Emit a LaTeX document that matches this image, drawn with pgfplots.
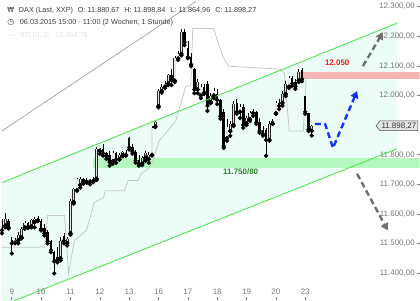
\documentclass[border=0pt]{standalone}
\usepackage{pgfplots}
\pgfplotsset{compat=1.18}
\usepackage{pgfplotstable}
\usepackage{fontspec}
\setmainfont{Liberation Sans}
\newfontfamily\symfont{DejaVu Sans}
\usetikzlibrary{arrows.meta,shapes.symbols}
\definecolor{chanfill}{RGB}{236,252,246}
\definecolor{chanline}{RGB}{80,230,80}
\definecolor{gband}{RGB}{180,248,190}
\definecolor{rband}{RGB}{245,180,180}
\definecolor{lred}{RGB}{230,30,30}
\definecolor{lgreen}{RGB}{40,140,40}
\definecolor{arrblue}{RGB}{20,50,250}
\definecolor{arrgrey}{RGB}{110,110,110}
\definecolor{stline}{RGB}{200,200,200}
\definecolor{diag}{RGB}{170,170,170}
\definecolor{ticktext}{RGB}{120,120,120}
\definecolor{headtext}{RGB}{60,60,60}
\newcommand\tf{\fontsize{8bp}{9.5bp}\selectfont}
\newcommand\hf{\fontsize{7.3bp}{9bp}\selectfont}

\pgfplotstableread{
k o h l c
0 11578 11585 11535 11545
2 11578 11582 11551 11555
3 11511 11521 11467 11501
8 11570 11573 11553 11558
11 11585 11592 11576 11580
12 11578 11582 11545 11550
13 11552 11565 11528 11535
14 11538 11545 11501 11508
15 11508 11511 11471 11478
16 11471 11477 11400 11440
17 11455 11488 11437 11445
19 11525 11535 11501 11510
25 11720 11723 11703 11708
27 11716 11720 11700 11710
31 11820 11837 11797 11805
32 11805 11810 11786 11795
33 11800 11813 11763 11775
35 11805 11810 11773 11785
38 11806 11815 11797 11800
39 11857 11860 11818 11825
40 11825 11837 11803 11810
41 11810 11815 11773 11780
42 11782 11800 11763 11770
52 12068 12089 12035 12050
56 12215 12226 12170 12180
57 12160 12183 12126 12130
58 12130 12142 12099 12105
59 12089 12092 12008 12020
62 12030 12038 12005 12010
63 12040 12048 11948 11965
66 12005 12022 11971 11985
67 11985 11988 11921 11930
68 11945 11954 11823 11830
72 11975 11988 11938 11945
74 11960 11971 11891 11900
78 11945 11948 11904 11910
79 11912 11924 11874 11880
80 11885 11897 11864 11870
81 11885 11891 11797 11850
85 11975 11988 11954 11965
89 12060 12065 12032 12040
90 12045 12055 12022 12030
92 12085 12092 12048 12055
93 11998 12000 11938 11945
94 11940 11942 11880 11885
}\downc

\pgfplotstableread{
k o h l c
1 11561 11605 11555 11585
4 11504 11518 11501 11514
5 11511 11538 11501 11528
6 11521 11555 11518 11550
7 11555 11575 11550 11570
9 11558 11585 11555 11580
10 11572 11590 11555 11585
18 11450 11521 11444 11510
20 11502 11521 11494 11515
21 11535 11650 11530 11645
22 11640 11689 11635 11685
23 11680 11723 11679 11718
24 11698 11726 11689 11720
26 11708 11722 11705 11716
28 11710 11725 11708 11720
29 11719 11825 11715 11818
30 11813 11823 11803 11820
34 11778 11813 11770 11805
36 11785 11807 11783 11800
37 11798 11813 11795 11808
43 11770 11797 11765 11790
44 11790 11813 11780 11805
45 11785 11808 11773 11800
46 11800 11897 11797 11890
47 11895 11914 11893 11910
48 11964 12022 11960 12015
49 12015 12038 12010 12030
50 12030 12048 12025 12040
51 12040 12072 12035 12068
53 12050 12132 12045 12125
54 12125 12149 12120 12140
55 12140 12225 12135 12215
60 12020 12055 12008 12045
61 12000 12038 11991 12030
64 11978 12008 11974 12000
65 12000 12025 11991 12015
69 11855 11921 11847 11895
70 11880 11914 11864 11905
71 11900 11981 11897 11970
73 11945 11971 11924 11960
75 11905 11931 11900 11925
76 11920 11948 11914 11940
77 11940 11954 11931 11945
82 11850 11914 11847 11905
83 11905 11921 11904 11915
84 11940 11981 11938 11975
86 11975 12015 11965 12005
87 12005 12048 11998 12040
88 12030 12065 12025 12060
91 12050 12089 12045 12080
95 11880.67 11898.84 11864.96 11898.27
}\upc

\begin{document}
\begin{tikzpicture}
\begin{axis}[
  scale only axis, width=420bp, height=300bp,
  xmin=-0.05, xmax=128.1, ymin=11310, ymax=12317,
  axis on top,
  axis line style={draw=none},
  scaled y ticks=false, scaled x ticks=false,
  tick style={draw=gray, line width=0.6bp},
  major tick length=3bp, tick align=inside,
  xtick pos=lower, ytick pos=right, yticklabel pos=right,
  xtick={3,12,21,30,39,48,57,66,75,84,93},
  xticklabels={9,10,11,12,13,16,17,18,19,20,23},
  xticklabel style={anchor=base, yshift=6bp, font=\tf, text=ticktext},
  ytick={11400,11500,11600,11700,11800,12000,12100,12200,12300},
  yticklabels={{11.400,00},{11.500,00},{11.600,00},{11.700,00},{11.800,00},{12.000,00},{12.100,00},{12.200,00},{12.300,00}},
  yticklabel style={anchor=east, xshift=-1.5bp, font=\tf, text=ticktext},
  clip=true,
]
% channel fill
\addplot[fill=chanfill, draw=none] coordinates {(-0.05,11706) (121.1,12244) (121.1,11820) (-0.05,11291)} -- cycle;
% support / resistance bands
\addplot[fill=gband, draw=none] coordinates {(28.0,11756) (128.2,11756) (128.2,11790) (28.0,11790)} -- cycle;
\addplot[fill=rband, draw=none] coordinates {(91.5,12055) (128.2,12055) (128.2,12079) (91.5,12079)} -- cycle;
% diagonal grey line
\addplot[diag, line width=0.8bp] coordinates {(-0.05,11880) (59.4,12317)};
% SuperTrend line
\addplot[stline, line width=0.8bp] coordinates {
(-0.05,11488) (13.07,11488) (14.0,11595) (19.2,11595) (20.4,11400) (22.2,11511)
(25.9,11545) (28.3,11639) (31.1,11655) (31.7,11679) (37.5,11679) (38.7,11713)
(41.7,11713) (42.7,11736) (45.1,11756) (46.3,11780) (48.2,11847) (53.3,11914)
(56.4,12032) (57.9,12032) (58.5,12226) (64.9,12226) (67.7,12132) (69.5,12099)
(85.4,12089) (86.6,12075) (88.1,11880) (92.4,11880) (93.3,12065) (95.1,12065)};
% wicks
\addplot[only marks, mark=none, error bars/.cd, y dir=plus, y explicit, error mark=none,
  error bar style={draw=black, line width=0.6bp}]
  table[x=k, y=l, y error plus expr=\thisrow{h}-\thisrow{l}] {\downc};
\addplot[only marks, mark=none, error bars/.cd, y dir=plus, y explicit, error mark=none,
  error bar style={draw=black, line width=0.6bp}]
  table[x=k, y=l, y error plus expr=\thisrow{h}-\thisrow{l}] {\upc};
% bodies
\addplot[only marks, mark=none, error bars/.cd, y dir=plus, y explicit, error mark=none,
  error bar style={draw=black, line width=2.5bp}]
  table[x=k, y=c, y error plus expr=\thisrow{o}-\thisrow{c}] {\downc};
\addplot[only marks, mark=none, error bars/.cd, y dir=plus, y explicit, error mark=none,
  error bar style={draw=black!85, line width=2.7bp}]
  table[x=k, y=o, y error plus expr=\thisrow{c}-\thisrow{o}] {\upc};
\addplot[only marks, mark=none, error bars/.cd, y dir=plus, y explicit, error mark=none,
  error bar style={draw=white!80!gray, line width=1.4bp}]
  table[x=k, y=o, y error plus expr=\thisrow{c}-\thisrow{o}] {\upc};
% channel lines
\addplot[chanline, line width=0.9bp] coordinates {(-0.05,11706) (121.1,12244)};
\addplot[chanline, line width=0.9bp] coordinates {(-0.05,11291) (121.1,11820)};
% forecast arrows
\addplot[arrblue, line width=2.4bp, dash pattern=on 6bp off 3.5bp, -{Triangle[length=7bp,width=8bp]}]
  coordinates {(96.0,11904) (99.1,11904) (101.5,11823) (108.9,12015)};
\addplot[arrgrey, line width=2.4bp, dash pattern=on 6bp off 3.5bp, -{Triangle[length=7bp,width=8bp]}]
  coordinates {(110.7,12099) (116.8,12213)};
\addplot[arrgrey, line width=2.4bp, dash pattern=on 6bp off 3.5bp, -{Triangle[length=7bp,width=8bp]}]
  coordinates {(108.9,11736) (118.3,11545)};
% labels
\node[font=\tf\bfseries, text=lred] at (axis cs:102.8,12112) {12.050};
\node[font=\tf\bfseries, text=lgreen] at (axis cs:73.2,11743) {11.750/80};
\node[signal, signal to=west, signal pointer angle=100, draw=black!70, fill=black!10,
  line width=0.5bp, inner sep=1.5bp, font=\tf, text=black!80, anchor=east] at (axis cs:127.6,11898) {11.898,27};
% header
\node[anchor=base west, font=\symfont\fontsize{7bp}{8bp}\selectfont, text=headtext] at (rel axis cs:0.005,0.9633) {₩};
\node[anchor=base west, font=\hf, text=headtext, inner xsep=0pt] at (rel axis cs:0.0405,0.9633) {DAX (Last, XXP)\hspace{5bp}O: 11.880,67\hspace{5bp}H: 11.898,84\hspace{5bp}L: 11.864,96\hspace{5bp}C: 11.898,27};
\node[anchor=base west, font=\symfont\fontsize{8bp}{9bp}\selectfont, text=headtext] at (rel axis cs:0.005,0.9217) {◷};
\node[anchor=base west, font=\hf, text=headtext, inner xsep=0pt] at (rel axis cs:0.0429,0.9217) {06.03.2015 15:00 - 11:00 (2 Wochen, 1 Stunde)};
\node[anchor=base west, font=\hf, text=black!12] at (rel axis cs:0.008,0.88) {—};
\node[anchor=base west, font=\hf, text=black!12, inner xsep=0pt] at (rel axis cs:0.0429,0.88) {ST(10, 3)\hspace{5bp}12.064,78};
\end{axis}
\end{tikzpicture}
\end{document}
